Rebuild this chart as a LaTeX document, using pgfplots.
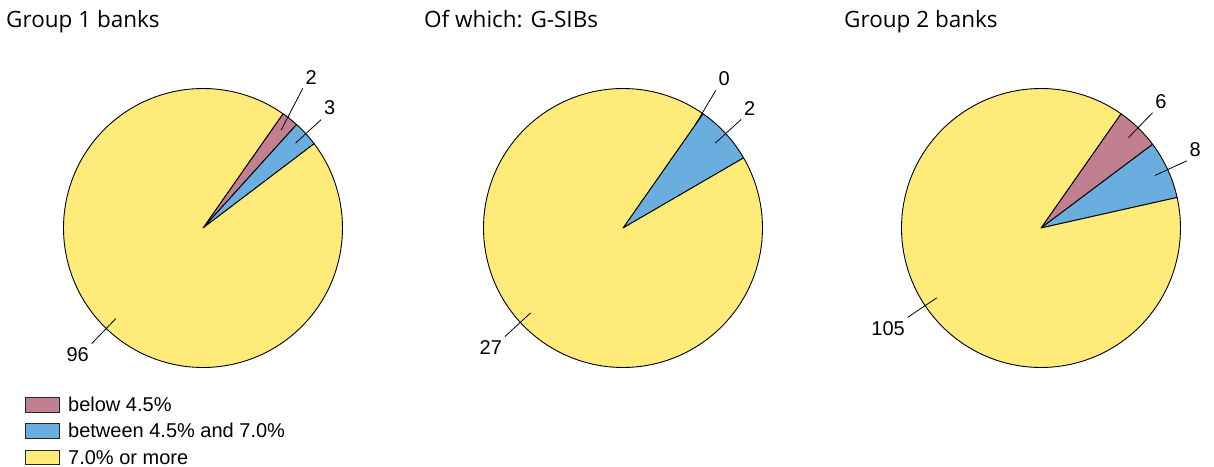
\documentclass[border=0pt]{standalone}
\usepackage{fontspec}
\setmainfont{Liberation Sans}
\newfontfamily\titlefont{Open Sans}
\usepackage{pgfplots}
\pgfplotsset{compat=1.18}
\definecolor{cRed}{RGB}{194,127,143}
\definecolor{cBlue}{RGB}{106,174,224}
\definecolor{cYel}{RGB}{255,235,122}
\def\R{139.5}
\newcommand\labfont{\fontsize{20bp}{24bp}\selectfont}
\newcommand\ttlfont{\titlefont\fontsize{22.5bp}{27bp}\selectfont}

% one wedge: centre x, centre y, from angle, to angle, colour
\newcommand\wedgeplot[5]{%
  \edef\tmp{\noexpand\addplot[draw=black, line width=0.9bp, line join=round,
     fill=#5, domain=#3:#4, samples=150, variable=\noexpand\t]
     ({#1+\R*cos(\noexpand\t)},{#2-\R*sin(\noexpand\t)}) -- (axis cs:#1,#2) -- cycle;}%
  \tmp}

% leader line and label: cx, cy, angle, outer factor, text, anchor, outer angle shift
\newcommand\leader[7]{%
  \pgfmathsetmacro\xa{#1+0.9*\R*cos(#3)}%
  \pgfmathsetmacro\ya{#2-0.9*\R*sin(#3)}%
  \pgfmathsetmacro\xb{#1+#4*\R*cos(#3+#7)}%
  \pgfmathsetmacro\yb{#2-#4*\R*sin(#3+#7)}%
  \edef\tmp{\noexpand\draw[line width=0.8bp] (axis cs:\xa,\ya) -- (axis cs:\xb,\yb)
     node[anchor=#6, inner xsep=2.5bp, inner ysep=4bp, font=\noexpand\labfont] {#5};}%
  \tmp}

% pie: cx, cy, below 4.5, between 4.5 and 7.0, 7.0 or more, label distances, shift
\newcommand\pie[9]{%
  \pgfmathsetmacro\T{#3+#4+#5}%
  \pgfmathsetmacro\aB{55-360*#3/\T}%
  \pgfmathsetmacro\aC{\aB-360*#4/\T}%
  \ifdim #3pt>0pt \wedgeplot{#1}{#2}{\aB}{55}{cRed}\fi
  \wedgeplot{#1}{#2}{\aC}{\aB}{cBlue}%
  \wedgeplot{#1}{#2}{-305}{\aC}{cYel}%
  \pgfmathsetmacro\mA{(55+\aB)/2}%
  \pgfmathsetmacro\mB{(\aB+\aC)/2}%
  \pgfmathsetmacro\mC{(\aC-305)/2}%
  \leader{#1}{#2}{\mA}{#6}{#3}{south west}{#9}%
  \leader{#1}{#2}{\mB}{#7}{#4}{south west}{0}%
  \leader{#1}{#2}{\mC}{#8}{#5}{north east}{0}%
}

\begin{document}
\begin{tikzpicture}
\useasboundingbox (0,0) rectangle (1214bp,467bp);
\begin{axis}[at={(0,0)}, anchor=south west, scale only axis,
  width=1214bp, height=467bp, xmin=0, xmax=1214, ymin=0, ymax=467,
  y dir=reverse, hide axis, clip=false]

\pie{203}{228}{2}{3}{96}{1.23}{1.15}{1.15}{3}
\pie{623}{228}{0}{2}{27}{1.19}{1.15}{1.15}{1}
\pie{1041}{228}{6}{8}{105}{1.15}{1.15}{1.15}{0}

\node[anchor=base west, inner sep=0, font=\ttlfont] at (axis cs:6,27.3) {Group 1 banks};
\node[anchor=base west, inner sep=0, font=\ttlfont] at (axis cs:424,27.3) {Of which: G-SIBs};
\node[anchor=base west, inner sep=0, font=\ttlfont] at (axis cs:844,27.3) {Group 2 banks};

\draw[draw=black!85, line width=0.8bp, fill=cRed] (axis cs:25,397.7) rectangle (axis cs:59,412.7);
\draw[draw=black!85, line width=0.8bp, fill=cBlue] (axis cs:25,423.3) rectangle (axis cs:59,438.3);
\draw[draw=black!85, line width=0.8bp, fill=cYel] (axis cs:25,450) rectangle (axis cs:59,464.5);
\node[anchor=base west, inner sep=0, font=\labfont] at (axis cs:68,411) {below 4.5\%};
\node[anchor=base west, inner sep=0, font=\labfont] at (axis cs:68,437.7) {between 4.5\% and 7.0\%};
\node[anchor=base west, inner sep=0, font=\labfont] at (axis cs:68,464) {7.0\% or more};
\end{axis}
\end{tikzpicture}
\end{document}
